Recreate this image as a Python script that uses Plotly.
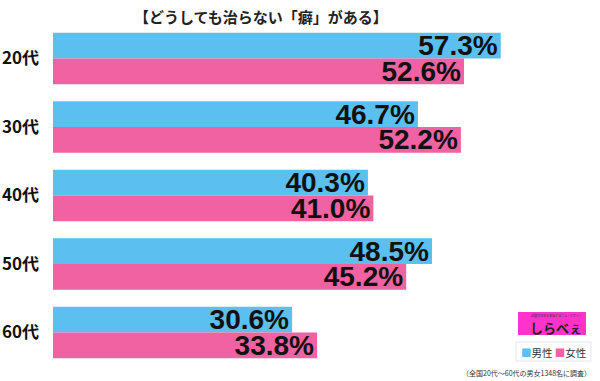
import plotly.graph_objects as go

categories = ["20代", "30代", "40代", "50代", "60代"]
male = [57.3, 46.7, 40.3, 48.5, 30.6]
female = [52.6, 52.2, 41.0, 45.2, 33.8]
title = "【どうしても治らない「癖」がある】"
note = "（全国20代～60代の男女1348名に調査）"

W, H = 600, 381
BLUE = "#5bbff0"
PINK = "#f062a2"
NUM_FONT = dict(family="Liberation Sans, Arial, sans-serif", size=28, color="#111111")

def px(x):
    return x / W

def py(y):
    return 1 - y / H

fig = go.Figure()
fig.add_trace(go.Bar(
    y=categories, x=male, orientation="h", name="男性",
    marker=dict(color=BLUE, line=dict(width=0)),
    text=[f"<b>{v:.1f}%</b>" for v in male], textposition="inside",
    insidetextanchor="end", constraintext="none", textfont=NUM_FONT,
    hoverinfo="skip",
))
fig.add_trace(go.Bar(
    y=categories, x=female, orientation="h", name="女性",
    marker=dict(color=PINK, line=dict(width=0)),
    text=[f"<b>{v:.1f}%</b>" for v in female], textposition="inside",
    insidetextanchor="end", constraintext="none", textfont=NUM_FONT,
    hoverinfo="skip",
))

fig.update_layout(
    width=W, height=H,
    margin=dict(l=0, r=0, t=0, b=0),
    paper_bgcolor="white", plot_bgcolor="white",
    barmode="group", bargap=0.25, bargroupgap=0,
    showlegend=False,
    xaxis=dict(domain=[53 / W, 1], range=[0, 70], visible=False, fixedrange=True),
    yaxis=dict(domain=[py(366.75), py(24.25)], autorange="reversed",
               showgrid=False, zeroline=False, showline=False, ticks="",
               automargin=False, ticklabelstandoff=13, fixedrange=True,
               tickfont=dict(family="Noto Sans CJK JP, sans-serif", size=17,
                             color="#111111", weight=600)),
    font=dict(family="Noto Sans CJK JP, sans-serif"),
)

fig.add_annotation(
    text=f"<b>{title}</b>", x=px(261), y=py(16), xref="paper", yref="paper",
    xanchor="center", yanchor="middle", showarrow=False,
    font=dict(family="Noto Sans CJK JP, sans-serif", size=15, color="#222222"),
)

# logo box
fig.add_shape(type="rect", xref="paper", yref="paper",
              x0=px(518), x1=px(586), y0=py(335), y1=py(312),
              fillcolor="#ff33cc", line=dict(width=0))
fig.add_annotation(
    text="<b>しらべぇ</b>", x=px(556), y=py(327), xref="paper", yref="paper",
    xanchor="center", yanchor="middle", showarrow=False,
    font=dict(family="Noto Sans CJK JP, sans-serif", size=13, color="#222222"),
)
fig.add_annotation(
    text="話題の日本を発信するニュースサイト", x=px(556), y=py(315), xref="paper", yref="paper",
    xanchor="center", yanchor="middle", showarrow=False,
    font=dict(family="Noto Sans CJK JP, sans-serif", size=3, color="#333333"),
)

# legend box
fig.add_shape(type="rect", xref="paper", yref="paper",
              x0=px(516), x1=px(591), y0=py(361), y1=py(342),
              fillcolor="white", line=dict(width=1, color="#e6e6e6"))
fig.add_annotation(
    text=f"<span style='color:{BLUE}'>■</span>男性 <span style='color:{PINK}'>■</span>女性",
    x=px(553.5), y=py(352), xref="paper", yref="paper",
    xanchor="center", yanchor="middle", showarrow=False,
    font=dict(family="Noto Sans CJK JP, sans-serif", size=10.5, color="#333333"),
)
fig.add_annotation(
    text=note, x=px(593), y=py(373), xref="paper", yref="paper",
    xanchor="right", yanchor="middle", showarrow=False,
    font=dict(family="Noto Sans CJK JP, sans-serif", size=7, color="#333333"),
)

fig.write_html("out.html", config={"displayModeBar": False, "staticPlot": True},
               post_script="document.body.style.margin='0';document.body.style.overflow='hidden';")
